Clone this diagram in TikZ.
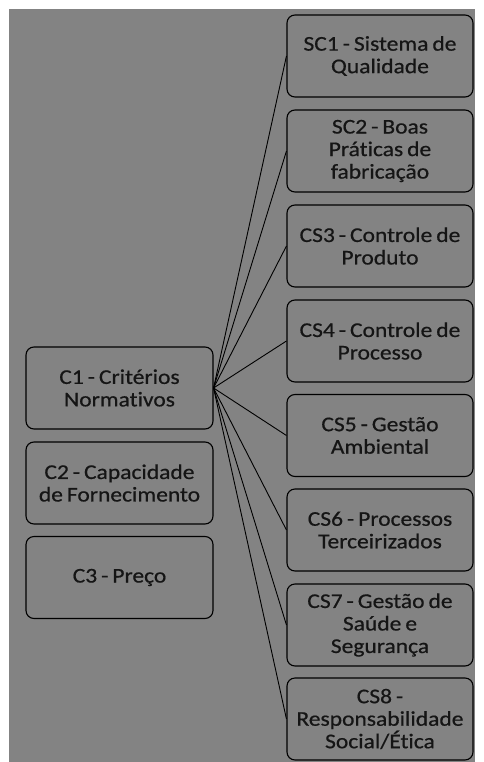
\documentclass[tikz,border=0pt]{standalone}
\usepackage{fontspec}
\setmainfont{Carlito}[FakeStretch=1.12, FakeBold=0.6, WordSpace=0.75, Ligatures=NoCommon]
\definecolor{bg}{HTML}{838383}
\definecolor{txt}{HTML}{151515}
\tikzset{
  crit/.style={draw=black, line width=1.1pt, rounded corners=8pt, fill=bg,
    minimum width=187pt, minimum height=82pt, inner sep=1pt,
    align=center, text=txt, font=\fontsize{21}{22.5}\selectfont},
  sub/.style={crit, minimum width=186pt},
  link/.style={draw=black, line width=0.9pt}
}
\begin{document}
\begin{tikzpicture}[x=1pt,y=1pt]
\useasboundingbox (0,0) rectangle (483,-762);
\fill[white] (0,0) rectangle (483,-762);
\fill[bg] (9,-9) rectangle (475,-762);
% left column
\node[crit] (c1) at (119.5,-388) {C1 - Critérios\\Normativos};
\node[crit] (c2) at (119.5,-483) {C2 - Capacidade\\de Fornecimento};
\node[crit] (c3) at (119.5,-577.5) {C3 - Preço};
% right column
\node[sub] (s1) at (380,-56) {SC1 - Sistema de\\Qualidade};
\node[sub] (s2) at (380,-151) {SC2 - Boas\\Práticas de\\fabricação};
\node[sub] (s3) at (380,-246) {CS3 - Controle de\\Produto};
\node[sub] (s4) at (380,-341) {CS4 - Controle de\\Processo};
\node[sub] (s5) at (380,-435.5) {CS5 - Gestão\\Ambiental};
\node[sub] (s6) at (380,-530) {CS6 - Processos\\Terceirizados};
\node[sub] (s7) at (380,-625) {CS7 - Gestão de\\Saúde e\\Segurança};
\node[sub] (s8) at (380,-719) {CS8 -\\Responsabilidade\\Social/Ética};
% connectors
\foreach \t in {s1,s2,s3,s4,s5,s6,s7,s8}
  \draw[link] (c1.east) -- (\t.west);
\end{tikzpicture}
\end{document}
